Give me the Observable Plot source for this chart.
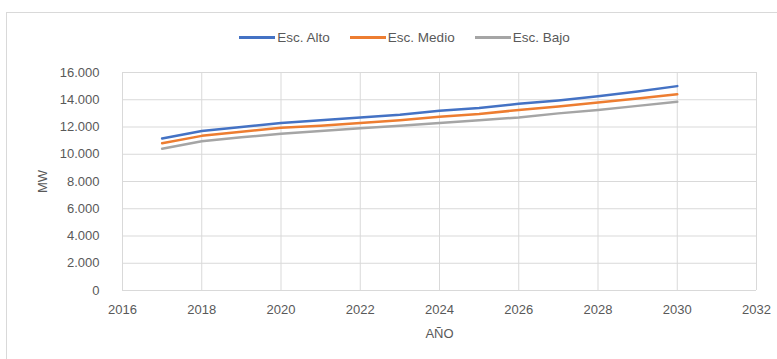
<!DOCTYPE html>
<html><head><meta charset="utf-8">
<script src="https://cdn.jsdelivr.net/npm/d3@7"></script>
<script src="https://cdn.jsdelivr.net/npm/@observablehq/plot@0.6"></script>
<style>
body{margin:0;background:#fff;}
#wrap{position:relative;width:777px;height:359px;overflow:hidden;font-family:"Liberation Sans",Arial,sans-serif;color:#595959;}
#frame{position:absolute;left:6px;top:12px;width:800px;height:400px;border:1px solid #d9d9d9;box-sizing:border-box;}
#legend{position:absolute;top:28px;left:16px;width:777px;height:18px;display:flex;justify-content:center;align-items:center;font-size:13.5px;}
#legend .item{display:flex;align-items:center;margin:0 10px;}
#legend .sw{display:inline-block;width:36px;height:3px;margin-right:2px;}
#plot{position:absolute;top:50px;left:0;}
</style></head>
<body>
<div id="wrap"><div id="frame"></div><div id="legend"></div><div id="plot"></div></div>
<script>
const years = [2017,2018,2019,2020,2021,2022,2023,2024,2025,2026,2027,2028,2029,2030];
const alto  = [11150,11700,12000,12300,12500,12700,12900,13200,13400,13700,13950,14250,14600,15000];
const medio = [10800,11350,11650,11950,12100,12300,12500,12750,12950,13250,13500,13800,14100,14400];
const bajo  = [10400,10950,11250,11500,11700,11900,12100,12300,12500,12700,13000,13250,13550,13850];
const seriesNames = ["Esc. Alto","Esc. Medio","Esc. Bajo"];
const seriesColors = ["#4472C4","#ED7D31","#A5A5A5"];
const xTicks = [2016,2018,2020,2022,2024,2026,2028,2030,2032];
const yTicks = [0,2000,4000,6000,8000,10000,12000,14000,16000];

const valuesBySeries = [alto, medio, bajo];
const data = [];
seriesNames.forEach((s,i)=>years.forEach((y,j)=>data.push({series:s, year:y, value:valuesBySeries[i][j]})));

const esFmt = d3.formatLocale({decimal:",",thousands:".",grouping:[3],currency:["",""]}).format(",.0f");

const legend = document.getElementById("legend");
seriesNames.forEach((s,i)=>{
  const it = document.createElement("span"); it.className="item";
  const sw = document.createElement("span"); sw.className="sw"; sw.style.background=seriesColors[i];
  const tx = document.createElement("span"); tx.textContent=s;
  it.appendChild(sw); it.appendChild(tx); legend.appendChild(it);
});

const chart = Plot.plot({
  width:777, height:309,
  marginLeft:122, marginRight:21, marginTop:22, marginBottom:69,
  style:{fontFamily:'"Liberation Sans", Arial, sans-serif', fontSize:"13px", color:"#595959", background:"transparent"},
  x:{domain:[2016,2032]},
  y:{domain:[0,16000]},
  color:{domain:seriesNames, range:seriesColors},
  marks:[
    Plot.gridX(xTicks,{stroke:"#d9d9d9", strokeOpacity:1}),
    Plot.gridY(yTicks,{stroke:"#d9d9d9", strokeOpacity:1}),
    Plot.axisX(xTicks,{tickSize:0, tickPadding:14, tickFormat:d=>String(d), label:"AÑO", labelAnchor:"center", labelArrow:"none", labelOffset:47}),
    Plot.axisY(yTicks,{tickSize:0, tickPadding:23, tickFormat:esFmt, label:"MW", labelAnchor:"center", labelArrow:"none", labelOffset:85}),
    Plot.line(data,{x:"year", y:"value", stroke:"series", z:"series", strokeWidth:2.5})
  ]
});
document.getElementById("plot").appendChild(chart);
</script>
</body></html>
